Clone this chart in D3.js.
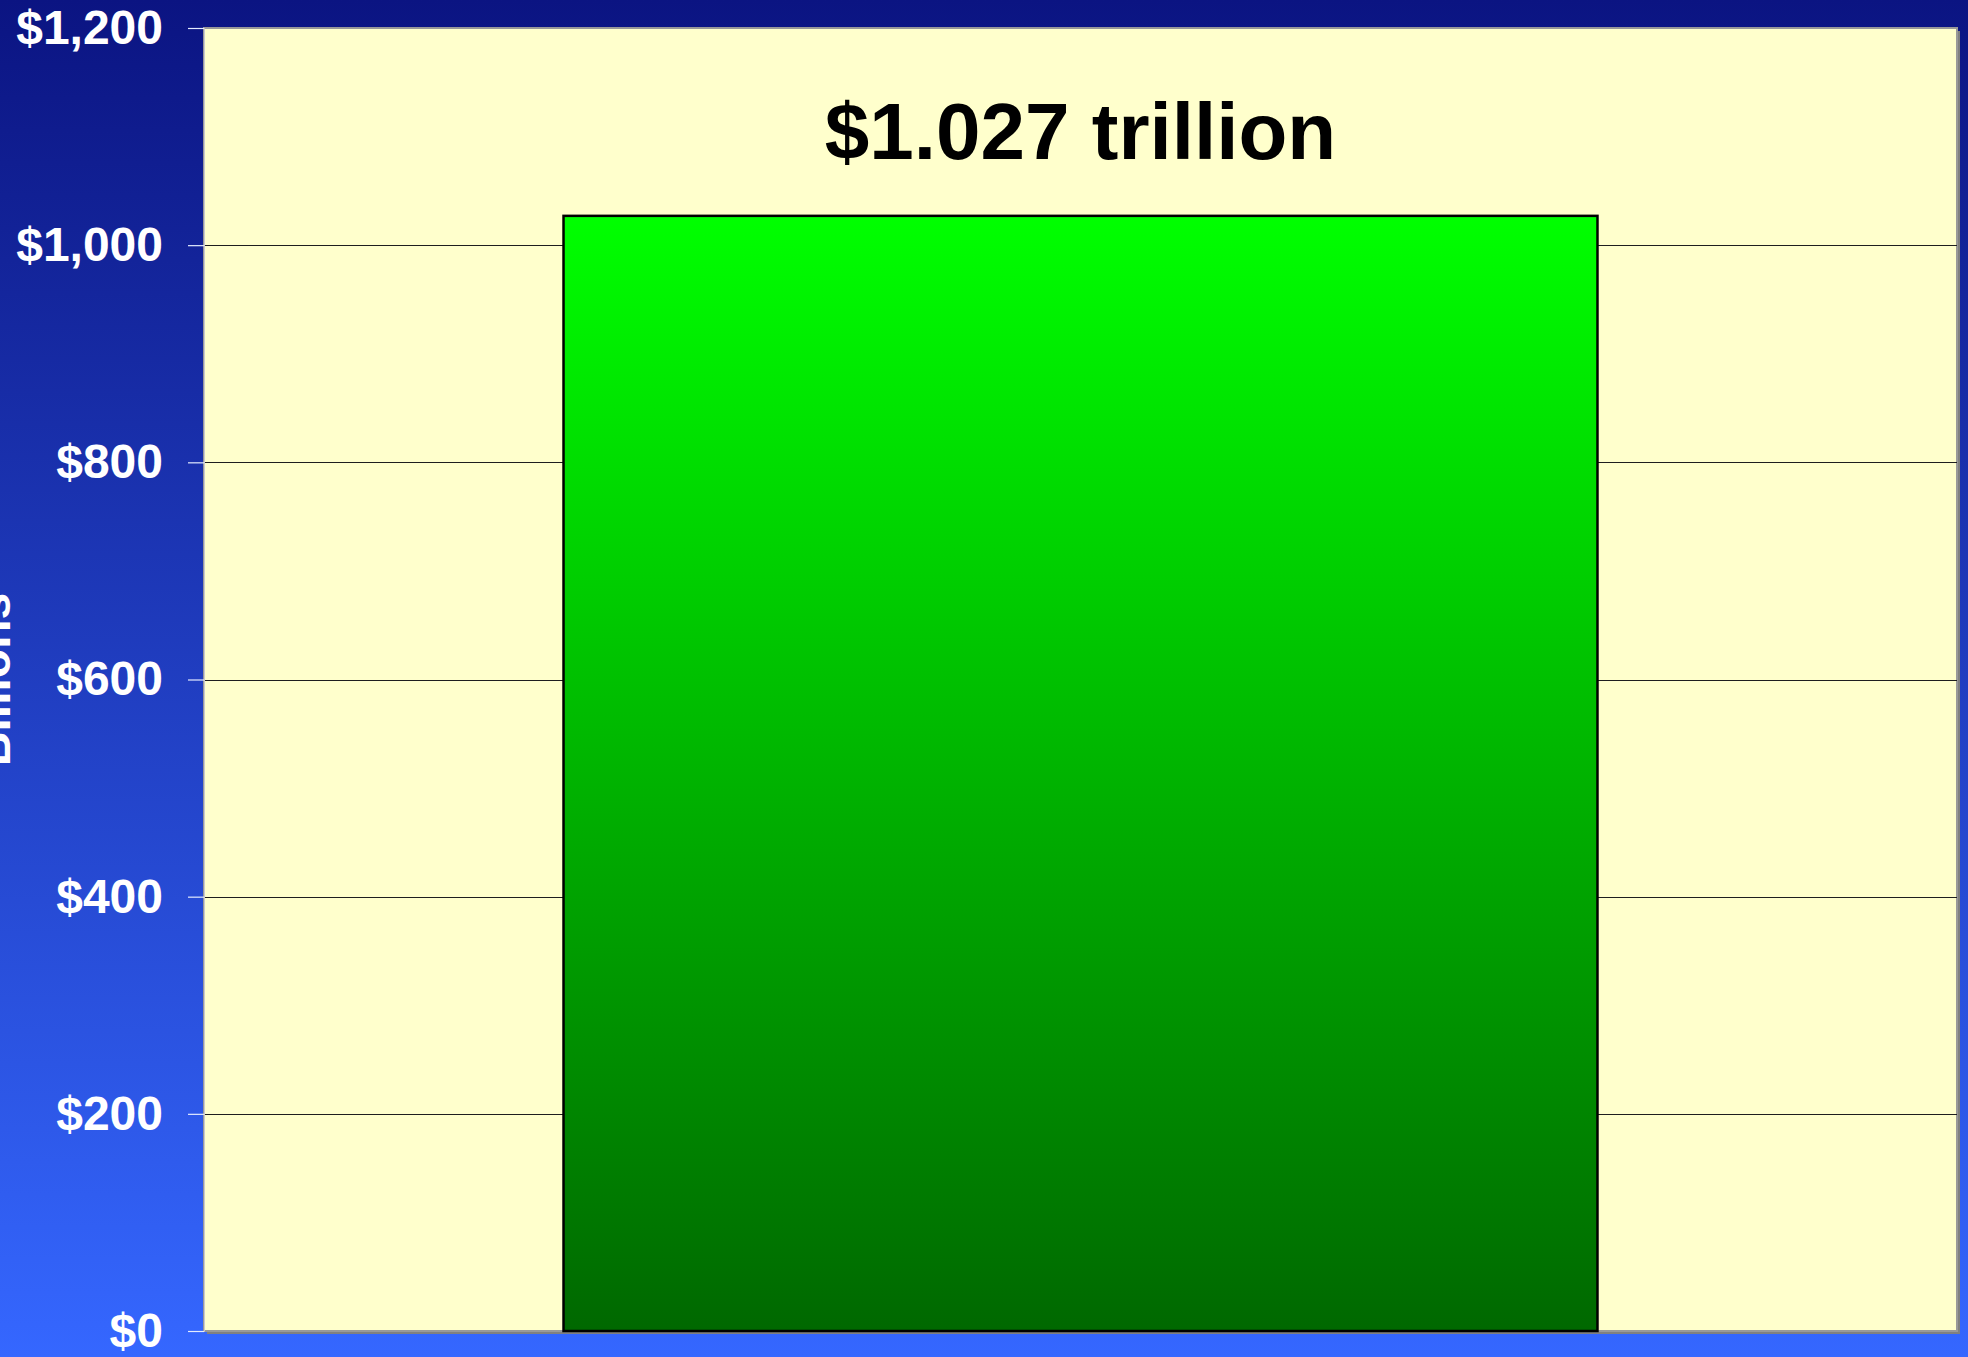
<!DOCTYPE html>
<html>
<head>
<meta charset="utf-8">
<script src="https://cdn.jsdelivr.net/npm/d3@7"></script>
<style>
  body { margin: 0; padding: 0; overflow: hidden; }
</style>
</head>
<body>
<div id="caja"></div>
<script>
// datos del grafico
var categorias = ["Total"];
var valores = [1027];
var etiquetas = ["$1.027 trillion"];
var ticksY = [0, 200, 400, 600, 800, 1000, 1200];
var tituloY = "Billions";

var w = 1968, h = 1357;
var margen = {top: 28, right: 11, bottom: 26, left: 204};

var svg = d3.select('#caja')
    .append('svg')
    .attr('width', w)
    .attr('height', h);

var defs = svg.append("defs");

// fondo azul degradado
var fondo = defs.append("linearGradient")
    .attr("id", "fondo")
    .attr("x1", 0).attr("y1", 0).attr("x2", 0).attr("y2", 1);
fondo.append("stop").attr("offset", "0%").attr("stop-color", "#0b1482");
fondo.append("stop").attr("offset", "100%").attr("stop-color", "#3567ff");

// barra verde degradada
var verde = defs.append("linearGradient")
    .attr("id", "verde")
    .attr("x1", 0).attr("y1", 0).attr("x2", 0).attr("y2", 1);
verde.append("stop").attr("offset", "0%").attr("stop-color", "#00ff00");
verde.append("stop").attr("offset", "100%").attr("stop-color", "#006800");

svg.append("rect")
    .attr("width", w)
    .attr("height", h)
    .attr("fill", "url(#fondo)");

var x0 = margen.left, x1 = w - margen.right;
var y0 = margen.top, y1 = h - margen.bottom;

var x = d3.scaleBand()
    .domain(categorias)
    .range([x0, x1])
    .padding(0.258);

var y = d3.scaleLinear()
    .domain([0, 1200])
    .range([y1, y0]);

// sombra y area del grafico
svg.append("rect")
    .attr("x", x0 + 3).attr("y", y0 + 3)
    .attr("width", x1 - x0).attr("height", y1 - y0)
    .attr("fill", "#808080");
svg.append("rect")
    .attr("x", x0).attr("y", y0)
    .attr("width", x1 - x0).attr("height", y1 - y0)
    .attr("fill", "#ffffcc")
    .attr("stroke", "#999999")
    .attr("stroke-width", 2);

// lineas de la grilla
svg.append("g")
    .selectAll("line")
    .data(ticksY.filter(function(d) { return d > 0 && d < 1200; }))
    .enter()
    .append("line")
    .attr("x1", x0)
    .attr("x2", x1)
    .attr("y1", function(d) { return Math.round(y(d)) + 0.5; })
    .attr("y2", function(d) { return Math.round(y(d)) + 0.5; })
    .attr("stroke", "#1e1e1e")
    .attr("stroke-width", 1);

// barra
svg.append("g")
    .selectAll("rect")
    .data(valores)
    .enter()
    .append("rect")
    .attr("x", function(d, i) { return x(categorias[i]); })
    .attr("y", function(d) { return y(d); })
    .attr("width", x.bandwidth())
    .attr("height", function(d) { return y(0) - y(d); })
    .attr("fill", "url(#verde)")
    .attr("stroke", "#000")
    .attr("stroke-width", 2.5);

// etiqueta de valor
svg.append("g")
    .selectAll("text")
    .data(valores)
    .enter()
    .append("text")
    .attr("x", function(d, i) { return x(categorias[i]) + x.bandwidth() / 2; })
    .attr("y", function(d) { return y(d) - 57; })
    .attr("text-anchor", "middle")
    .style("font-family", "'Liberation Sans', Arial, sans-serif")
    .style("font-weight", "bold")
    .style("font-size", "80px")
    .style("fill", "#000")
    .text(function(d, i) { return etiquetas[i]; });

// eje Y
var ejeY = d3.axisLeft(y)
    .tickValues(ticksY)
    .tickSize(16)
    .tickPadding(25)
    .tickFormat(function(d) { return "$" + d3.format(",")(d); });

var gEje = svg.append("g")
    .attr("transform", "translate(" + x0 + ",0)")
    .call(ejeY);

gEje.select(".domain")
    .attr("stroke", "#c8c8d0")
    .attr("stroke-width", 1);
gEje.selectAll(".tick line")
    .attr("stroke", "#e4ecff")
    .attr("stroke-width", 1.2);
gEje.selectAll(".tick text")
    .attr("fill", "#ffffff")
    .style("font-family", "'Liberation Sans', Arial, sans-serif")
    .style("font-weight", "bold")
    .style("font-size", "48px");

// titulo del eje
svg.append("text")
    .attr("transform", "translate(9.5," + ((y0 + y1) / 2) + ") rotate(-90)")
    .attr("text-anchor", "middle")
    .style("font-family", "'Liberation Sans', Arial, sans-serif")
    .style("font-weight", "bold")
    .style("font-size", "48px")
    .style("fill", "#ffffff")
    .text(tituloY);
</script>
</body>
</html>
